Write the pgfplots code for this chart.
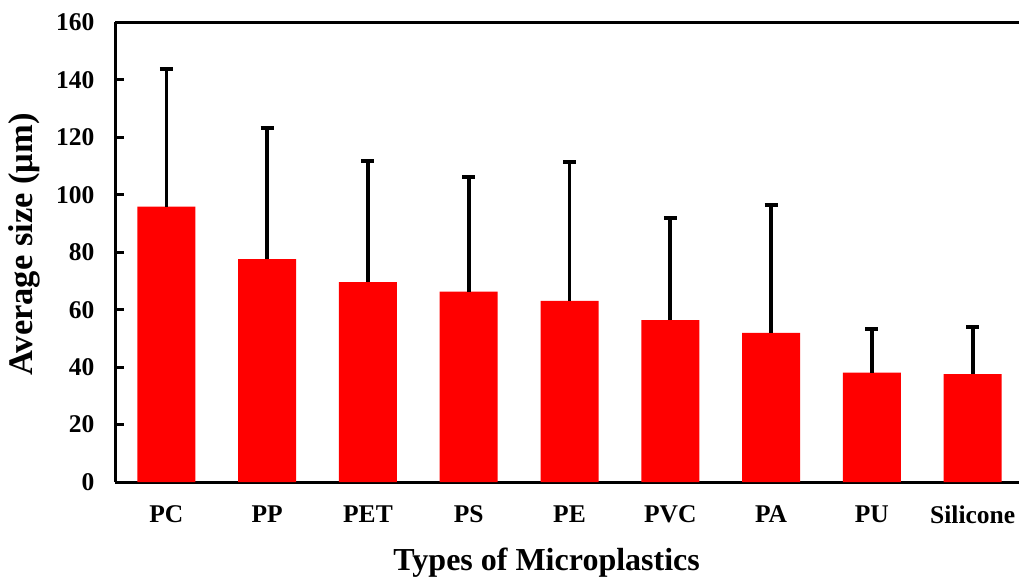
\documentclass[border=0pt]{standalone}
\usepackage{pgfplots}
\pgfplotsset{compat=1.18}
\usepackage{fontspec}
\setmainfont{Liberation Serif}

% mean size and upper standard deviation of each polymer type
\pgfplotstableread{
x name     mean   sd
0 PC       95.9   47.9
1 PP       77.6   45.8
2 PET      69.6   42.1
3 PS       66.3   39.8
4 PE       63.1   48.2
5 PVC      56.4   35.6
6 PA       51.9   44.7
7 PU       38.1   15.2
8 Silicone 37.6   16.5
}\sizedata

\begin{document}
\begin{tikzpicture}
\useasboundingbox (0,0) rectangle (1019pt,579pt);
\begin{axis}[
  at={(115pt,97pt)}, anchor=south west,
  scale only axis, width=904pt, height=459.5pt,
  xmin=-0.51, xmax=8.46,
  ymin=0, ymax=160,
  axis y line*=left, axis x line*=box,
  axis line style={line width=3pt, -},
  ytick={0,20,...,160},
  xtick={0,...,8},
  xticklabels={PC,PP,PET,PS,PE,PVC,PA,PU,Silicone},
  major x tick style={draw=none},
  major y tick style={line width=3pt, black},
  tick align=inside, major tick length=9pt,
  /pgf/number format/assume math mode=true,
  ticklabel style={font=\fontsize{25.5}{30}\selectfont\bfseries},
  yticklabel style={xshift=-17pt},
  xticklabel style={yshift=-20pt},
  xlabel={Types of Microplastics},
  ylabel={Average size (μm)},
  xlabel style={font=\fontsize{32}{38}\selectfont\bfseries,
    at={(axis description cs:0.4775,-0.1915)}, anchor=base},
  ylabel style={font=\fontsize{34.5}{40}\selectfont\bfseries,
    at={(axis description cs:-0.100,0.517)}, anchor=center, rotate=0},
  clip=false,
]
\addplot[ybar, bar width=58pt, fill=red, draw=none,
  error bars/.cd, y dir=plus, y explicit,
  error bar style={line width=3.7pt, black},
  error mark options={rotate=90, mark size=6.5pt, line width=4pt, black}]
  table[x=x, y=mean, y error=sd] {\sizedata};
\end{axis}
\end{tikzpicture}
\end{document}
